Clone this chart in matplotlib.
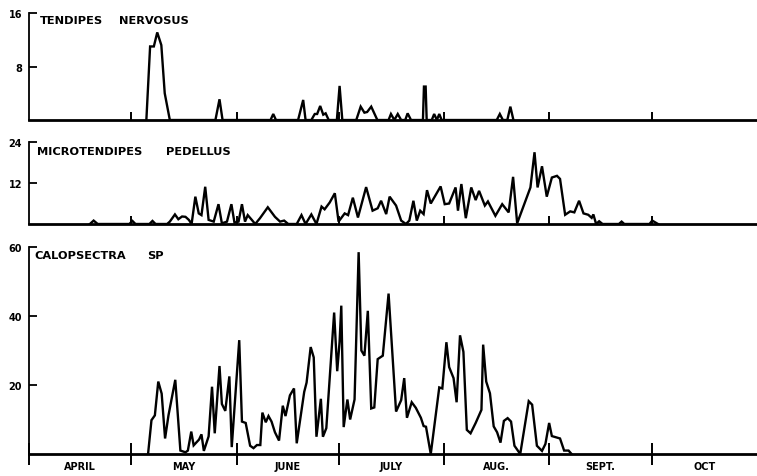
import matplotlib.pyplot as plt

# days counted from April 1
month_names = ['APRIL', 'MAY', 'JUNE', 'JULY', 'AUG.', 'SEPT.', 'OCT']
month_starts = [0, 30, 61, 91, 122, 153, 183, 214]

# Tendipes nervosus
tn_days = [34.5, 35.6, 36.7, 37.7, 38.9, 39.9, 41.4,
           54.8, 56.0, 56.9,
           71.0, 71.8, 72.6,
           79.1, 80.6, 81.3,
           83.0, 84.0, 84.7, 85.6, 86.5, 87.2, 88.1,
           90.5, 91.3, 92.1,
           96.2, 97.5, 98.6, 99.4, 100.6, 102.4,
           105.7, 106.4, 107.4, 108.4, 109.4, 110.6, 111.3, 112.3,
           115.8, 116.1, 116.6, 116.9,
           118.4, 119.1, 119.9, 120.6, 121.3,
           137.5, 138.4, 139.3, 140.6, 141.5, 142.4]
tn_vals = [0, 11, 11, 13.1, 11.2, 4, 0,
           0, 3.1, 0,
           0, 0.9, 0,
           0, 3, 0,
           0, 0.9, 0.9, 2.1, 0.8, 1, 0,
           0, 5.1, 0,
           0, 2, 1.1, 1.2, 2, 0,
           0, 0.9, 0, 0.9, 0, 0, 1, 0,
           0, 5, 5, 0,
           0, 0.9, 0, 0.9, 0,
           0, 0.9, 0, 0, 2, 0]

# Microtendipes pedellus
mp_days = [17.9, 19.0, 20.2, 29.5, 30.4, 31.3, 35.4, 36.3, 37.2,
           40.6, 41.4, 42.9, 43.9, 45.0, 46.0, 47.0, 47.8, 48.9, 49.9,
           50.7, 51.8, 52.8, 54.3, 55.7, 56.7, 58.2, 59.5, 60.4, 61.6,
           62.6, 63.5, 64.3, 65.5, 66.5, 67.9, 70.2, 72.3, 73.8, 75.0,
           76.2, 78.7, 80.1, 81.3, 83.0, 84.5, 86.0, 86.9, 88.4, 89.9,
           91.0, 92.8, 93.8, 95.2, 96.7, 99.1, 101.0, 102.5,
           103.5, 105.0, 106.0, 107.9, 109.4, 110.8, 111.8, 113.0, 114.0, 115.0,
           116.0, 117.0, 118.1, 121.0, 122.2, 123.5, 125.4, 126.1, 127.1, 128.4,
           130.0, 131.3, 132.3, 134.0, 134.9, 137.1, 139.1, 141.0, 142.3, 143.5,
           147.4, 148.6, 149.5, 150.8, 152.2, 153.7, 155.2, 156.1, 157.6, 159.1,
           160.3, 161.7, 163.0, 164.4, 165.4, 165.9, 166.7,
           167.6, 168.6, 173.4, 174.2, 175.0, 182.4, 183.2, 184.9]
mp_vals = [0, 1, 0, 0, 0.9, 0, 0, 0.9, 0,
           0, 0.7, 2.8, 1.4, 2.2, 2.1, 1.2, 0, 8, 3.1,
           2.6, 10.9, 1.2, 0.7, 5.8, 0.2, 0.7, 5.8, 0.4, 0.7,
           5.8, 0.7, 2.6, 1.2, 0, 1.7, 4.9, 2.1, 0.7, 1,
           0, 0, 2.6, 0, 2.8, 0, 5.1, 4.3, 6.3, 9,
           0.7, 3.1, 2.6, 7.7, 1.9, 10.8, 3.9, 4.6,
           6.8, 2.9, 8, 5.4, 1, 0, 1, 6.8, 1, 3.9,
           2.9, 9.9, 6, 11, 5.8, 6, 10.7, 3.9, 11.7, 1.7,
           10.7, 7, 9.7, 5.4, 6.6, 2.4, 5.8, 3.4, 13.8, 0.2,
           10.7, 21, 10.7, 16.9, 8, 13.6, 14.1, 13.2, 2.7, 3.7,
           3.4, 6.8, 3.1, 2.7, 1.8, 2.8, 0,
           0.8, 0, 0, 0.7, 0, 0, 1, 0]

# Calopsectra sp
cs_days = [35.0, 36.0, 37.0, 38.0, 39.0, 40.0, 41.0, 43.0, 44.5, 46.0,
           46.7, 47.7, 48.4, 50.0, 50.7, 51.4, 52.8, 53.8, 54.6, 56.0,
           56.7, 57.7, 58.9, 59.6, 61.8, 62.6, 63.7, 65.0, 66.0, 67.0,
           68.0, 68.6, 69.6, 70.4, 71.3, 72.3, 73.5, 74.6, 75.4, 76.7,
           77.9, 78.7, 80.9, 81.6, 82.8, 83.7, 84.5, 85.8, 86.4, 87.4,
           89.7, 90.6, 91.3, 91.8, 92.5, 93.6, 94.4, 95.7, 96.9, 97.7,
           98.6, 99.6, 100.6, 101.5, 102.5, 104.0, 105.7, 107.9, 109.4, 110.3,
           111.1, 112.5, 113.7, 115.2, 116.0, 116.7, 118.1, 120.6, 121.5, 122.7,
           123.5, 124.8, 125.7, 126.7, 127.7, 128.7, 129.8, 131.3, 133.0, 133.5,
           134.4, 135.5, 136.6, 137.6, 138.6, 139.6, 140.7, 141.7, 142.7, 144.4,
           146.9, 147.9, 149.3, 150.8, 151.8, 152.9, 153.7, 156.1, 157.3, 158.6,
           159.5]
cs_vals = [0, 9.8, 11.2, 21, 17.5, 4.5, 11.2, 21.5, 1, 0.5,
           1, 6.5, 2.5, 4.2, 5.7, 0.9, 5.1, 19.5, 6, 25.5,
           14.5, 12.5, 22.5, 2, 33, 9.4, 9, 2.4, 1.7, 2.6,
           2.6, 12, 9.2, 11, 9.4, 6.3, 3.9, 14, 11, 17,
           19, 3.1, 18, 20.7, 31, 28, 5, 16, 5, 7.5,
           41, 24, 32.5, 43, 7.8, 15.8, 10, 15.8, 58.5, 30,
           28.5, 41.5, 13.2, 13.5, 27.5, 28.5, 46.5, 12.3, 15.6, 22,
           10.5, 15, 13.4, 10.5, 8.1, 7.9, 0, 19.3, 19, 32.4,
           25.2, 22, 15, 34.4, 29.6, 7, 6, 9, 12.8, 31.7,
           21, 17.6, 8, 6.3, 3.3, 9.6, 10.4, 9.4, 2.4, 0,
           15.3, 14.3, 2.4, 0.9, 2.9, 9, 5.2, 4.5, 1, 1,
           0]

# (name words, word x positions in figure fraction, title y, data, y max, y ticks, axes rect)
panels = [
    (['TENDIPES', 'NERVOSUS'], [0.053, 0.157], 0.957, tn_days, tn_vals, 16, [8, 16],
     [0.0383, 0.7463, 0.9617, 0.2243]),
    (['MICROTENDIPES', 'PEDELLUS'], [0.049, 0.219], 0.682, mp_days, mp_vals, 24, [12, 24],
     [0.0383, 0.5283, 0.9617, 0.1719]),
    (['CALOPSECTRA', 'SP'], [0.046, 0.195], 0.463, cs_days, cs_vals, 60, [20, 40, 60],
     [0.0383, 0.0461, 0.9617, 0.4340]),
]

fig = plt.figure(figsize=(7.57, 4.77), dpi=100)

for i, (words, wx, ty, days, vals, ymax, yticks, rect) in enumerate(panels):
    ax = fig.add_axes(rect)
    ax.plot(days, vals, color='black', lw=1.7, solid_joinstyle='miter')
    ax.set_xlim(0, 214)
    ax.set_ylim(0, ymax)
    ax.spines['top'].set_visible(False)
    ax.spines['right'].set_visible(False)
    ax.spines['left'].set_linewidth(1.3)
    ax.spines['bottom'].set_linewidth(2.0)
    ax.set_yticks(yticks)
    ax.set_yticklabels([str(t) for t in yticks], fontsize=7, fontweight='bold')
    ax.tick_params(axis='y', direction='in', length=6, width=1.3, pad=5)
    ax.set_xticks(month_starts[1:-1])
    if i < 2:
        ax.set_xticklabels([])
        ax.tick_params(axis='x', direction='in', length=6, width=1.4)
    else:
        ax.set_xticks(month_starts[:-1])
        ax.set_xticklabels([])
        ax.tick_params(axis='x', which='major', direction='inout', length=16, width=1.4)
        mids = [(month_starts[k] + month_starts[k + 1]) / 2 for k in range(7)]
        ax.set_xticks(mids, minor=True)
        ax.set_xticklabels(month_names, minor=True, fontsize=7, fontweight='bold')
        ax.tick_params(axis='x', which='minor', length=0, pad=5)
    ax.patch.set_alpha(0)
    for w, x in zip(words, wx):
        fig.text(x, ty, w, fontsize=8.2, fontweight='bold', va='center', ha='left')

plt.savefig('out.png', dpi=100)
